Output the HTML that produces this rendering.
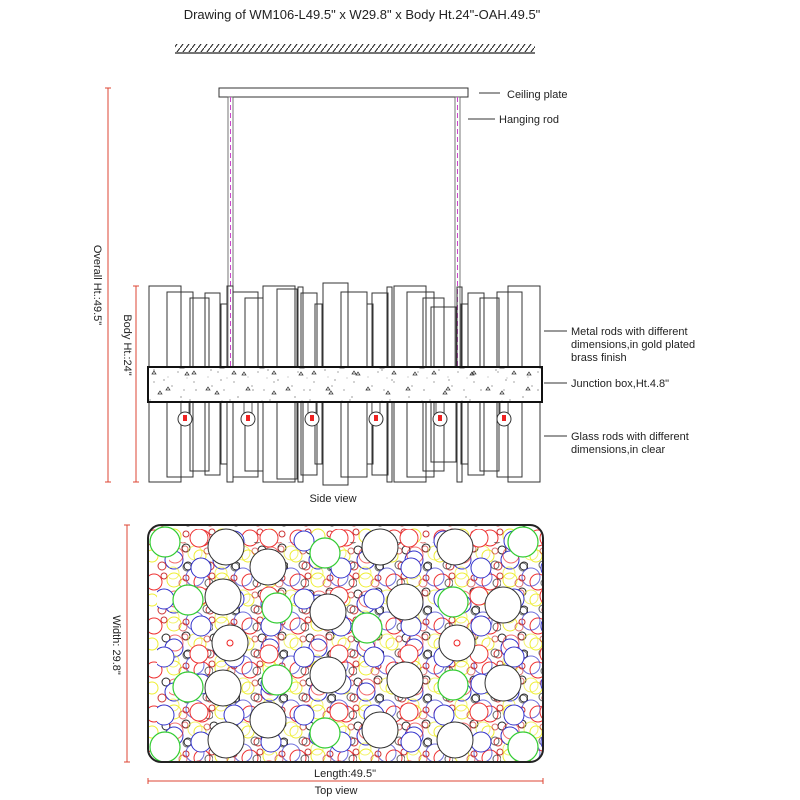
<!DOCTYPE html>
<html><head><meta charset="utf-8"><style>
html,body{margin:0;padding:0;background:#fff}
svg{display:block}
text{font-family:"Liberation Sans",sans-serif;fill:#222}
</style></head><body>
<svg width="800" height="800" viewBox="0 0 800 800" xmlns="http://www.w3.org/2000/svg">
<defs>
<pattern id="hatch" width="6" height="8" patternUnits="userSpaceOnUse">
<line x1="0" y1="8" x2="6" y2="0" stroke="#222" stroke-width="1.1"/>
</pattern>
<pattern id="jb" width="40" height="36" patternUnits="userSpaceOnUse">
<circle cx="5" cy="6" r="0.6" fill="#666"/><circle cx="18" cy="12" r="0.6" fill="#666"/>
<circle cx="30" cy="4" r="0.6" fill="#666"/><circle cx="12" cy="26" r="0.6" fill="#666"/>
<circle cx="34" cy="22" r="0.6" fill="#666"/><circle cx="24" cy="30" r="0.6" fill="#666"/>
<circle cx="8" cy="17" r="0.5" fill="#888"/><circle cx="27" cy="18" r="0.5" fill="#888"/>
<path d="M20 8 l2 -3 l2 3z" fill="none" stroke="#333" stroke-width="0.7"/>
<path d="M6 30 l2 -3 l2 3z" fill="none" stroke="#333" stroke-width="0.7"/>
<path d="M32 14 l2 -3 l2 3z" fill="none" stroke="#333" stroke-width="0.7"/>
</pattern>
<pattern id="jb2" width="57" height="35" patternUnits="userSpaceOnUse">
<circle cx="10" cy="12" r="0.6" fill="#555"/><circle cx="40" cy="20" r="0.6" fill="#555"/>
<circle cx="25" cy="5" r="0.6" fill="#555"/><circle cx="50" cy="30" r="0.6" fill="#555"/>
<path d="M44 9 l2 -3 l2 3z" fill="none" stroke="#333" stroke-width="0.7"/>
<path d="M14 25 l2 -3 l2 3z" fill="none" stroke="#333" stroke-width="0.7"/>
</pattern>
<pattern id="bub" width="48" height="44" patternUnits="userSpaceOnUse">
<circle cx="10" cy="10" r="8" fill="none" stroke="#e33" stroke-width="1"/>
<circle cx="30" cy="8" r="7" fill="none" stroke="#ee3" stroke-width="1"/>
<circle cx="42" cy="20" r="4" fill="none" stroke="#222" stroke-width="1"/>
<circle cx="22" cy="22" r="4" fill="none" stroke="#222" stroke-width="1"/>
<circle cx="8" cy="28" r="6" fill="none" stroke="#ee3" stroke-width="1"/>
<circle cx="30" cy="32" r="9" fill="none" stroke="#33c" stroke-width="1"/>
<circle cx="18" cy="38" r="4" fill="none" stroke="#c33" stroke-width="1"/>
<circle cx="44" cy="38" r="4" fill="none" stroke="#222" stroke-width="1"/>
<circle cx="20" cy="4" r="3" fill="none" stroke="#c33" stroke-width="1"/>
<circle cx="42" cy="6" r="3" fill="none" stroke="#c33" stroke-width="1"/>
</pattern>
<pattern id="blue" width="70" height="58" patternUnits="userSpaceOnUse">
<circle cx="15" cy="15" r="10" fill="#fff" stroke="#33c" stroke-width="1"/>
<circle cx="52" cy="42" r="10" fill="#fff" stroke="#33c" stroke-width="1"/>
<circle cx="50" cy="12" r="9" fill="#fff" stroke="#e33" stroke-width="1"/>
</pattern>
</defs>

<text x="362" y="19" font-size="13" text-anchor="middle">Drawing of WM106-L49.5" x W29.8" x Body Ht.24"-OAH.49.5"</text>

<rect x="175" y="44" width="360" height="8" fill="url(#hatch)"/>
<line x1="175" y1="53" x2="535" y2="53" stroke="#222" stroke-width="1.2"/>

<rect x="219" y="88" width="249" height="9" fill="#fff" stroke="#333"/>
<rect x="228" y="97" width="5" height="270" fill="#fff" stroke="#555" stroke-width="0.8"/>
<line x1="230.5" y1="97" x2="230.5" y2="367" stroke="#c4c" stroke-dasharray="5,3"/>
<rect x="455" y="97" width="5" height="270" fill="#fff" stroke="#555" stroke-width="0.8"/>
<line x1="457.5" y1="97" x2="457.5" y2="367" stroke="#c4c" stroke-dasharray="5,3"/>

<g fill="none" stroke="#333" stroke-width="1">
<rect x="149" y="286" width="32" height="196"/>
<rect x="167" y="292" width="26" height="185"/>
<rect x="190" y="298" width="19" height="173"/>
<rect x="205" y="293" width="15" height="182"/>
<rect x="221" y="304" width="6" height="160"/>
<rect x="227" y="286" width="6" height="196"/>
<rect x="233" y="292" width="25" height="185"/>
<rect x="245" y="298" width="18" height="173"/>
<rect x="263" y="286" width="32" height="196"/>
<rect x="277" y="289" width="20" height="190"/>
<rect x="298" y="287" width="5" height="195"/>
<rect x="301" y="293" width="16" height="182"/>
<rect x="315" y="304" width="7" height="160"/>
<rect x="323" y="283" width="25" height="202"/>
<rect x="341" y="292" width="26" height="185"/>
<rect x="367" y="304" width="6" height="160"/>
<rect x="372" y="293" width="16" height="182"/>
<rect x="387" y="287" width="5" height="195"/>
<rect x="394" y="286" width="32" height="196"/>
<rect x="407" y="292" width="27" height="185"/>
<rect x="423" y="298" width="21" height="173"/>
<rect x="431" y="307" width="25" height="155"/>
<rect x="457" y="287" width="5" height="195"/>
<rect x="461" y="304" width="7" height="160"/>
<rect x="468" y="293" width="16" height="182"/>
<rect x="480" y="298" width="19" height="173"/>
<rect x="497" y="292" width="25" height="185"/>
<rect x="508" y="286" width="32" height="196"/>
</g>
<g>
<g transform="translate(185,419)"><rect x="-4" y="-17" width="8" height="12" fill="#fff" stroke="#333" stroke-width="0.8"/><circle r="7" fill="#fff" stroke="#333"/><rect x="-2" y="-4" width="4" height="6" fill="#e22"/></g>
<g transform="translate(248,419)"><rect x="-4" y="-17" width="8" height="12" fill="#fff" stroke="#333" stroke-width="0.8"/><circle r="7" fill="#fff" stroke="#333"/><rect x="-2" y="-4" width="4" height="6" fill="#e22"/></g>
<g transform="translate(312,419)"><rect x="-4" y="-17" width="8" height="12" fill="#fff" stroke="#333" stroke-width="0.8"/><circle r="7" fill="#fff" stroke="#333"/><rect x="-2" y="-4" width="4" height="6" fill="#e22"/></g>
<g transform="translate(376,419)"><rect x="-4" y="-17" width="8" height="12" fill="#fff" stroke="#333" stroke-width="0.8"/><circle r="7" fill="#fff" stroke="#333"/><rect x="-2" y="-4" width="4" height="6" fill="#e22"/></g>
<g transform="translate(440,419)"><rect x="-4" y="-17" width="8" height="12" fill="#fff" stroke="#333" stroke-width="0.8"/><circle r="7" fill="#fff" stroke="#333"/><rect x="-2" y="-4" width="4" height="6" fill="#e22"/></g>
<g transform="translate(504,419)"><rect x="-4" y="-17" width="8" height="12" fill="#fff" stroke="#333" stroke-width="0.8"/><circle r="7" fill="#fff" stroke="#333"/><rect x="-2" y="-4" width="4" height="6" fill="#e22"/></g>
</g>
<rect x="148" y="367" width="394" height="35" fill="#fff"/>
<rect x="148" y="367" width="394" height="35" fill="url(#jb2)"/>
<rect x="148" y="367" width="394" height="35" fill="url(#jb)" stroke="#111" stroke-width="2"/>

<g stroke="#d43" stroke-width="1">
<line x1="108" y1="88" x2="108" y2="482"/><line x1="105" y1="88" x2="111" y2="88"/><line x1="105" y1="482" x2="111" y2="482"/>
<line x1="136" y1="286" x2="136" y2="482"/><line x1="133" y1="286" x2="139" y2="286"/><line x1="133" y1="482" x2="139" y2="482"/>
</g>
<text transform="translate(94,285) rotate(90)" font-size="11" text-anchor="middle">Overall Ht.:49.5"</text>
<text transform="translate(124,345) rotate(90)" font-size="11" text-anchor="middle">Body Ht.:24"</text>
<text x="333" y="502" font-size="11" text-anchor="middle">Side view</text>

<g stroke="#333" stroke-width="1">
<line x1="479" y1="93" x2="500" y2="93"/>
<line x1="468" y1="119" x2="495" y2="119"/>
<line x1="544" y1="331" x2="567" y2="331"/>
<line x1="544" y1="383" x2="567" y2="383"/>
<line x1="544" y1="436" x2="567" y2="436"/>
</g>
<g font-size="11">
<text x="507" y="98">Ceiling plate</text>
<text x="499" y="123">Hanging rod</text>
<text x="571" y="335">Metal rods with different</text>
<text x="571" y="348">dimensions,in gold plated</text>
<text x="571" y="361">brass finish</text>
<text x="571" y="387">Junction box,Ht.4.8"</text>
<text x="571" y="440">Glass rods with different</text>
<text x="571" y="453">dimensions,in clear</text>
</g>

<clipPath id="tv"><rect x="148" y="525" width="395" height="237" rx="13"/></clipPath>
<g clip-path="url(#tv)">
<rect x="148" y="525" width="395" height="237" fill="#fff"/>
<rect x="148" y="525" width="395" height="237" fill="url(#bub)"/>
<rect x="148" y="525" width="395" height="237" fill="url(#bub)" transform="translate(21,17)" opacity="0.7"/>
<rect x="148" y="525" width="395" height="237" fill="url(#blue)" transform="translate(9,4)"/>
<g fill="#fff" stroke="#333" stroke-width="1">
<circle cx="226" cy="547" r="18"/><circle cx="380" cy="547" r="18"/><circle cx="455" cy="547" r="18"/>
<circle cx="268" cy="567" r="18"/>
<circle cx="223" cy="597" r="18"/><circle cx="328" cy="612" r="18"/><circle cx="405" cy="602" r="18"/><circle cx="503" cy="605" r="18"/>
<circle cx="230" cy="643" r="18"/><circle cx="457" cy="643" r="18"/>
<circle cx="223" cy="688" r="18"/><circle cx="328" cy="675" r="18"/><circle cx="405" cy="680" r="18"/><circle cx="503" cy="683" r="18"/>
<circle cx="268" cy="720" r="18"/><circle cx="226" cy="740" r="18"/><circle cx="380" cy="730" r="18"/><circle cx="455" cy="740" r="18"/>
</g>
<circle cx="230" cy="643" r="3" fill="none" stroke="#e22"/>
<circle cx="457" cy="643" r="3" fill="none" stroke="#e22"/>
<g fill="#fff" stroke="#3c3" stroke-width="1.2">
<circle cx="165" cy="542" r="15"/><circle cx="325" cy="553" r="15"/><circle cx="523" cy="542" r="15"/>
<circle cx="188" cy="600" r="15"/><circle cx="277" cy="608" r="15"/><circle cx="367" cy="628" r="15"/><circle cx="453" cy="602" r="15"/>
<circle cx="188" cy="687" r="15"/><circle cx="277" cy="680" r="15"/><circle cx="453" cy="685" r="15"/>
<circle cx="325" cy="733" r="15"/><circle cx="165" cy="747" r="15"/><circle cx="523" cy="747" r="15"/>
</g>
</g>
<rect x="148" y="525" width="395" height="237" rx="13" fill="none" stroke="#222" stroke-width="2"/>

<g stroke="#d43" stroke-width="1">
<line x1="127" y1="525" x2="127" y2="762"/><line x1="124" y1="525" x2="130" y2="525"/><line x1="124" y1="762" x2="130" y2="762"/>
<line x1="148" y1="781" x2="543" y2="781"/><line x1="148" y1="778" x2="148" y2="784"/><line x1="543" y1="778" x2="543" y2="784"/>
</g>
<text transform="translate(113,645) rotate(90)" font-size="11" text-anchor="middle">Width: 29.8"</text>
<text x="345" y="777" font-size="11" text-anchor="middle">Length:49.5"</text>
<text x="336" y="794" font-size="11" text-anchor="middle">Top view</text>
</svg>
</body></html>
